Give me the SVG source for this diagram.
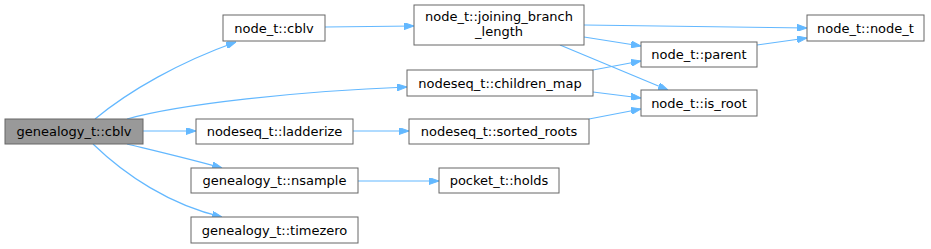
<svg xmlns="http://www.w3.org/2000/svg" width="931" height="249" viewBox="0 0 931 249">
<style>
.n rect{fill:#ffffff;stroke:#666666;stroke-width:1}
.n.g rect{fill:#999999}
.n text{font-family:"DejaVu Sans",sans-serif;font-size:13px;fill:#000000;text-anchor:middle}
.e path{fill:none;stroke:#63b8ff;stroke-width:1.2;marker-end:url(#a)}
</style>
<defs>
<marker id="a" viewBox="0 0 10 7" refX="10" refY="3.5" markerWidth="10" markerHeight="7" markerUnits="userSpaceOnUse" orient="auto">
<path d="M0,0 L10,3.5 L0,7 z" fill="#63b8ff" stroke="#63b8ff"/>
</marker>
</defs>
<rect width="931" height="249" fill="#ffffff"/>
<g id="edges" class="e">
<path d="M95,119 C130,90 180,62 236,42"/>
<path d="M127,119 C180,104 300,91 407,87"/>
<path d="M143,131 L196,131"/>
<path d="M127,144 C160,152 190,159 222,168"/>
<path d="M93,144 C125,175 170,205 222,217"/>
<path d="M325,27 L414,26"/>
<path d="M584,25 L807,28"/>
<path d="M584,37 L641,46"/>
<path d="M560,45 L668,90"/>
<path d="M593,70 L641,61"/>
<path d="M593,92 L641,98"/>
<path d="M353,131 L409,131"/>
<path d="M589,119 L641,109"/>
<path d="M757,45 L807,38"/>
<path d="M358,181 L439,181"/>
</g>
<g id="genealogy_cblv" class="n g"><rect x="5" y="119" width="138" height="25"/><text x="74" y="136">genealogy_t::cblv</text></g>
<g id="node_cblv" class="n"><rect x="223" y="15" width="102" height="26"/><text x="274" y="32.5">node_t::cblv</text></g>
<g id="joining_branch_length" class="n"><rect x="414" y="5" width="170" height="40"/><text x="499" y="20.5">node_t::joining_branch</text><text x="499" y="35.5">_length</text></g>
<g id="children_map" class="n"><rect x="407" y="70" width="186" height="26"/><text x="500" y="87.5">nodeseq_t::children_map</text></g>
<g id="node_node_t" class="n"><rect x="807" y="15" width="117" height="26"/><text x="865.5" y="32.5">node_t::node_t</text></g>
<g id="node_parent" class="n"><rect x="641" y="42" width="116" height="25"/><text x="699" y="59">node_t::parent</text></g>
<g id="node_is_root" class="n"><rect x="641" y="90" width="116" height="26"/><text x="699" y="107.5">node_t::is_root</text></g>
<g id="ladderize" class="n"><rect x="196" y="119" width="157" height="25"/><text x="274.5" y="136">nodeseq_t::ladderize</text></g>
<g id="sorted_roots" class="n"><rect x="409" y="119" width="180" height="25"/><text x="499" y="136">nodeseq_t::sorted_roots</text></g>
<g id="nsample" class="n"><rect x="191" y="168" width="167" height="25"/><text x="274.5" y="185">genealogy_t::nsample</text></g>
<g id="holds" class="n"><rect x="439" y="168" width="120" height="25"/><text x="499" y="185">pocket_t::holds</text></g>
<g id="timezero" class="n"><rect x="191" y="217" width="167" height="26"/><text x="274.5" y="234.5">genealogy_t::timezero</text></g>
</svg>
